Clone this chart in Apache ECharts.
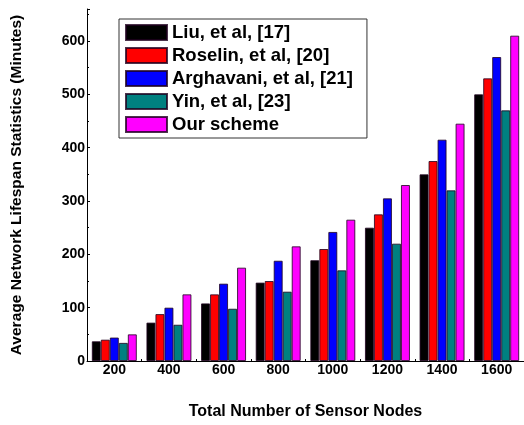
<!DOCTYPE html>
<html>
<head>
<meta charset="utf-8">
<script src="https://cdn.jsdelivr.net/npm/echarts@6/dist/echarts.min.js"></script>
<style>html,body{margin:0;padding:0;background:#fff}#c{width:524px;height:425px}</style>
</head>
<body>
<div id="c"></div>
<script>
const categories = ['200','400','600','800','1000','1200','1400','1600'];
const seriesNames = ['Liu, et al, [17]','Roselin, et al, [20]','Arghavani, et al, [21]','Yin, et al, [23]','Our scheme'];
const liu       = [37, 72, 108, 147, 189, 250, 350, 500];
const roselin   = [40, 88, 125, 150, 210, 275, 375, 530];
const arghavani = [44, 100, 145, 188, 242, 305, 415, 570];
const yin       = [34, 68, 98, 130, 170, 220, 320, 470];
const ours      = [50, 125, 175, 215, 265, 330, 445, 610];
const colors = ['#000000','#ff0000','#0000ff','#008080','#ff00ff'];
const values = [liu, roselin, arghavani, yin, ours];

const chart = echarts.init(document.getElementById('c'));
chart.setOption({
  animation: false,
  grid: {left: 87, right: 0, top: 9, bottom: 59},
  legend: {
    orient: 'vertical', left: 119, top: 19,
    itemWidth: 41, itemHeight: 15, itemGap: 4,
    padding: [4, 14, 4, 6],
    borderColor: '#333', borderWidth: 1,
    icon: 'rect',
    textStyle: {fontFamily: 'Liberation Sans', fontWeight: 'bold', fontSize: 18.5, color: '#000'},
    data: seriesNames
  },
  xAxis: {
    type: 'category', data: categories,
    name: 'Total Number of Sensor Nodes', nameLocation: 'middle', nameGap: 43,
    nameTextStyle: {fontFamily: 'Liberation Sans', fontWeight: 'bold', fontSize: 16, color: '#000'},
    axisLine: {lineStyle: {color: '#000', width: 1}},
    axisTick: {show: true, inside: true, length: 2, lineStyle: {color: '#000'}},
    axisLabel: {fontFamily: 'Liberation Sans', fontWeight: 'bold', fontSize: 14, color: '#000', margin: 2}
  },
  yAxis: {
    type: 'value', min: 0, max: 660, interval: 100,
    name: 'Average Network Lifespan Statistics (Minutes)', nameLocation: 'middle', nameGap: 62, nameRotate: 90,
    nameTextStyle: {fontFamily: 'Liberation Sans', fontWeight: 'bold', fontSize: 15.5, color: '#000'},
    axisLine: {show: true, lineStyle: {color: '#000', width: 1}},
    axisTick: {show: true, inside: true, length: 3, lineStyle: {color: '#000'}},
    minorTick: {show: true, splitNumber: 2, length: 2, lineStyle: {color: '#000'}},
    splitLine: {show: false},
    axisLabel: {fontFamily: 'Liberation Sans', fontWeight: 'bold', fontSize: 14, color: '#000', margin: 2, showMaxLabel: false}
  },
  series: values.map((v, i) => ({
    name: seriesNames[i], type: 'bar', data: v,
    barGap: '0%', barCategoryGap: '17.6%',
    itemStyle: {color: colors[i], borderColor: 'rgba(30,0,30,0.8)', borderWidth: 1}
  }))
});
</script>
</body>
</html>
